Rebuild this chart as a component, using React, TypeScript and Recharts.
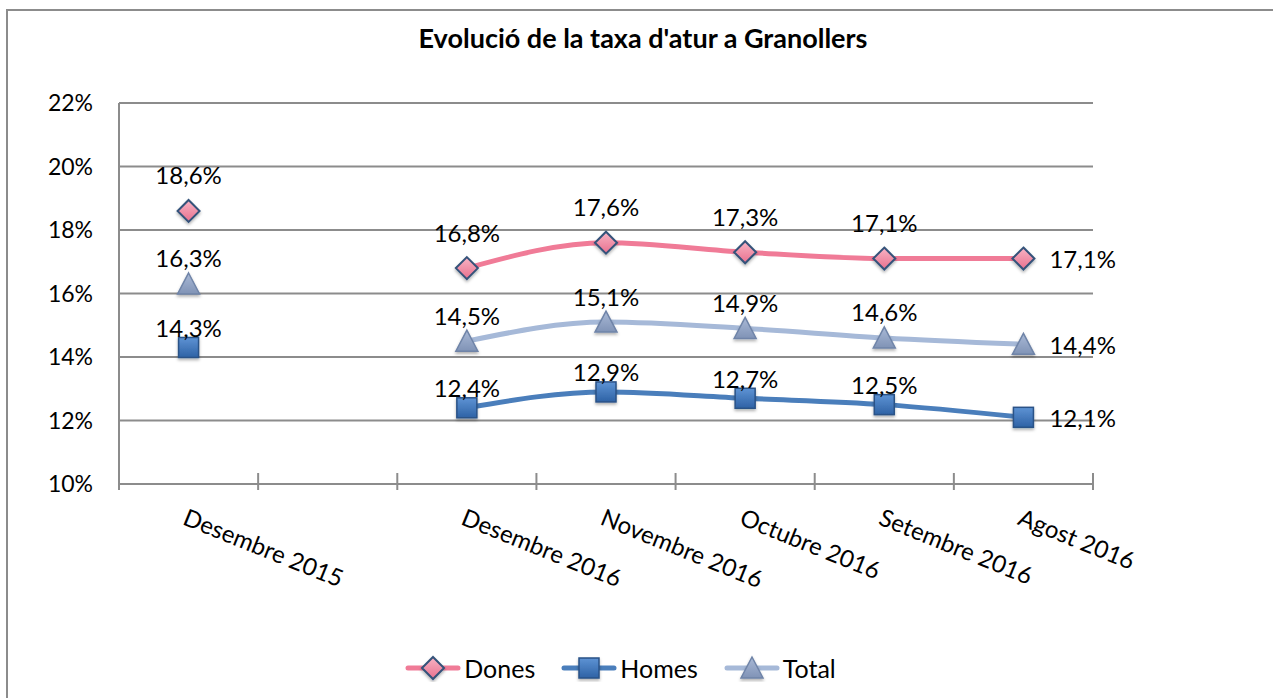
import React from "react";
import {
  LineChart,
  Line,
  XAxis,
  YAxis,
  CartesianGrid,
  Legend,
  LabelList,
} from "recharts";

const categories = [
  "Desembre 2015",
  "",
  "Desembre 2016",
  "Novembre 2016",
  "Octubre 2016",
  "Setembre 2016",
  "Agost 2016",
];
const dones = [18.6, null, 16.8, 17.6, 17.3, 17.1, 17.1];
const homes = [14.3, null, 12.4, 12.9, 12.7, 12.5, 12.1];
const total = [16.3, null, 14.5, 15.1, 14.9, 14.6, 14.4];
const yTicks = [10, 12, 14, 16, 18, 20, 22];

const FONT = "Lato, 'Open Sans', sans-serif";
const GRID = "#8c8c8c";

const COLORS = {
  dones: "#F07B97",
  homes: "#4A7EBB",
  total: "#A6B9D8",
};

const data = categories.map((name, i) => ({
  name,
  dones: dones[i],
  homes: homes[i],
  total: total[i],
}));

const fmt = (v: number) => `${v.toFixed(1).replace(".", ",")}%`;

// marker shapes
function Diamond({ cx, cy }: { cx: number; cy: number }) {
  return (
    <polygon
      points={`${cx},${cy - 11} ${cx + 11},${cy} ${cx},${cy + 11} ${cx - 11},${cy}`}
      fill="url(#gDones)"
      stroke="#34527A"
      strokeWidth={2}
      filter="url(#mShadow)"
    />
  );
}

function Square({ cx, cy }: { cx: number; cy: number }) {
  return (
    <rect
      x={cx - 10}
      y={cy - 10}
      width={20}
      height={20}
      fill="url(#gHomes)"
      stroke="#2A5287"
      strokeWidth={1.5}
      filter="url(#mShadow)"
    />
  );
}

function Triangle({ cx, cy }: { cx: number; cy: number }) {
  return (
    <polygon
      points={`${cx},${cy - 11} ${cx + 11},${cy + 10} ${cx - 11},${cy + 10}`}
      fill="url(#gTotal)"
      stroke="#6F84A8"
      strokeWidth={1.5}
      filter="url(#mShadow)"
    />
  );
}

const markerFor: Record<string, typeof Diamond> = {
  dones: Diamond,
  homes: Square,
  total: Triangle,
};

const makeDot = (key: string) => (props: any) => {
  const { cx, cy, index, value } = props;
  if (value == null || cx == null || cy == null) return <g key={`${key}-${index}`} />;
  const M = markerFor[key];
  return (
    <g key={`${key}-${index}`}>
      <M cx={cx} cy={cy} />
    </g>
  );
};

// data labels: above the point, the last one to the right
const makeLabel = (lift: number) => (props: any) => {
  const { x, y, value, index } = props;
  if (value == null) return null;
  const last = index === categories.length - 1;
  return (
    <text
      x={last ? x + 26 : x}
      y={last ? y : y - lift}
      textAnchor={last ? "start" : "middle"}
      dominantBaseline="central"
      fontFamily={FONT}
      fontSize={24}
      fill="#000"
    >
      {fmt(value)}
    </text>
  );
};

function CategoryTick(props: any) {
  const { x, y, payload, index } = props;
  const half = payload.offset || 0;
  return (
    <g>
      <line x1={x - half} x2={x - half} y1={y - 11} y2={y + 6} stroke={GRID} strokeWidth={2} />
      {index === categories.length - 1 && (
        <line x1={x + half} x2={x + half} y1={y - 11} y2={y + 6} stroke={GRID} strokeWidth={2} />
      )}
      {payload.value && (
        <text
          transform={`translate(${x - 7},${y + 40}) rotate(22)`}
          textAnchor="start"
          fontFamily={FONT}
          fontSize={24}
          fill="#000"
        >
          {payload.value}
        </text>
      )}
    </g>
  );
}

const legendItems = [
  { key: "dones", label: "Dones" },
  { key: "homes", label: "Homes" },
  { key: "total", label: "Total" },
];

function LegendContent() {
  return (
    <div
      style={{
        height: 40,
        width: 1273,
        display: "flex",
        justifyContent: "center",
        alignItems: "center",
        paddingRight: 32,
        boxSizing: "border-box",
        gap: 26,
        fontFamily: FONT,
        fontSize: 25,
      }}
    >
      {legendItems.map((it) => {
        const M = markerFor[it.key];
        return (
          <div key={it.key} style={{ display: "flex", alignItems: "center", gap: 3 }}>
            <svg width={56} height={28}>
              <line x1={3} x2={53} y1={14} y2={14} stroke={COLORS[it.key as keyof typeof COLORS]} strokeWidth={5} strokeLinecap="round" />
              <M cx={28} cy={14} />
            </svg>
            <span>{it.label}</span>
          </div>
        );
      })}
    </div>
  );
}

export default function App() {
  return (
    <div
      style={{
        position: "absolute",
        left: 0,
        top: 0,
        width: 1273,
        height: 698,
        overflow: "hidden",
        background: "#fff",
      }}
    >
      <svg width={0} height={0} style={{ position: "absolute" }}>
        <defs>
          <linearGradient id="gDones" x1="0" y1="0" x2="0" y2="1">
            <stop offset="0%" stopColor="#F8B4C4" />
            <stop offset="100%" stopColor="#E8708E" />
          </linearGradient>
          <linearGradient id="gHomes" x1="0" y1="0" x2="0" y2="1">
            <stop offset="0%" stopColor="#5E93D4" />
            <stop offset="100%" stopColor="#2E62A5" />
          </linearGradient>
          <linearGradient id="gTotal" x1="0" y1="0" x2="0" y2="1">
            <stop offset="0%" stopColor="#A9B9D6" />
            <stop offset="100%" stopColor="#8093B6" />
          </linearGradient>
          <filter id="mShadow" x="-50%" y="-50%" width="200%" height="200%">
            <feDropShadow dx="0" dy="2" stdDeviation="1.5" floodColor="#000" floodOpacity="0.3" />
          </filter>
        </defs>
      </svg>
      <div
        style={{
          position: "absolute",
          left: 6,
          top: 9,
          width: 1400,
          height: 800,
          border: `2px solid ${GRID}`,
        }}
      />
      <div
        style={{
          position: "absolute",
          left: 0,
          width: 1286,
          top: 21,
          textAlign: "center",
          fontFamily: FONT,
          fontWeight: 700,
          fontSize: 27,
          color: "#000",
        }}
      >
        Evolució de la taxa d'atur a Granollers
      </div>
      <div style={{ position: "absolute", left: 0, top: 0 }}>
        <LineChart
          width={1273}
          height={698}
          data={data}
          margin={{ top: 103, right: 180, left: 8, bottom: 10 }}
        >
          <CartesianGrid horizontal vertical={false} stroke={GRID} strokeWidth={2} />
          <XAxis
            dataKey="name"
            scale="band"
            interval={0}
            height={164}
            tickSize={0}
            tickMargin={0}
            tickLine={false}
            axisLine={{ stroke: GRID, strokeWidth: 2 }}
            tick={<CategoryTick />}
          />
          <YAxis
            domain={[10, 22]}
            ticks={yTicks}
            width={111}
            tickSize={0}
            tickMargin={26}
            tickLine={false}
            axisLine={{ stroke: GRID, strokeWidth: 2 }}
            tickFormatter={(v: number) => `${v}%`}
            tick={{ fontFamily: FONT, fontSize: 23, fill: "#000" }}
          />
          <Legend
            verticalAlign="bottom"
            content={<LegendContent />}
            wrapperStyle={{ left: 0, width: 1273 }}
          />
          <Line
            type="monotone"
            dataKey="dones"
            stroke={COLORS.dones}
            strokeWidth={5}
            dot={makeDot("dones")}
            activeDot={false}
            isAnimationActive={false}
          >
            <LabelList dataKey="dones" content={makeLabel(36)} />
          </Line>
          <Line
            type="monotone"
            dataKey="homes"
            stroke={COLORS.homes}
            strokeWidth={5}
            dot={makeDot("homes")}
            activeDot={false}
            isAnimationActive={false}
          >
            <LabelList dataKey="homes" content={makeLabel(20)} />
          </Line>
          <Line
            type="monotone"
            dataKey="total"
            stroke={COLORS.total}
            strokeWidth={5}
            dot={makeDot("total")}
            activeDot={false}
            isAnimationActive={false}
          >
            <LabelList dataKey="total" content={makeLabel(26)} />
          </Line>
        </LineChart>
      </div>
    </div>
  );
}
